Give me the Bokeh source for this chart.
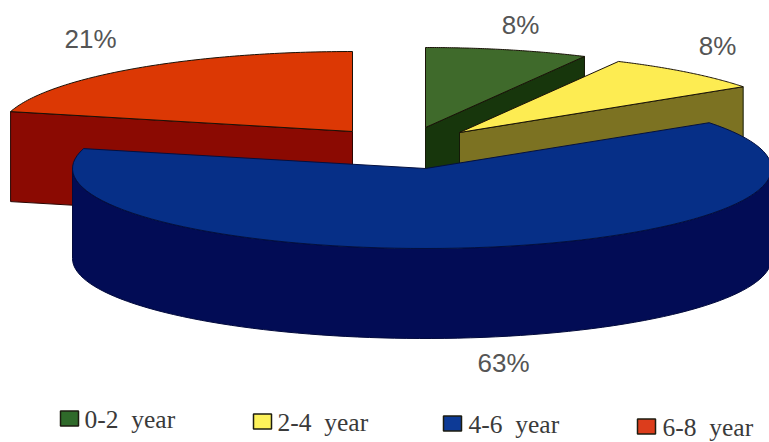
import numpy as np
from bokeh.plotting import figure
from bokeh.models import ColumnDataSource
from bokeh.core.properties import value
from bokeh.embed import file_html
from bokeh.resources import INLINE

# Survey shares, clockwise from twelve o'clock
categories = ["0-2\u00a0 year", "2-4\u00a0 year", "4-6\u00a0 year", "6-8\u00a0 year"]
shares = [8, 8, 63, 21]
share_labels = ["8%", "8%", "63%", "21%"]

top_colors = ["#3f6a2b", "#fdec52", "#062f87", "#dc3804"]
side_colors = ["#17360c", "#7c7222", "#020c55", "#8b0a02"]
swatch_colors = ["#2f6a2a", "#fdf25a", "#0d3a96", "#dc3d1c"]

# Where each exploded slice's tip lands on the page
tips = [(425, 127), (459, 132), (425, 168), (352, 131)]
label_xy = [(520, 24), (717, 45), (503, 362), (90, 38)]
swatch_xy = [(69, 418), (262, 421), (452, 423), (646, 426)]
legend_text_x = [84, 277, 468, 662]
legend_text_y = [419, 422, 424, 427]

RX_LEFT, RX_RIGHT, RY, DEPTH = 353.0, 346.0, 80.0, 90.0


def rim(tip, deg):
    # The right half of the disc is foreshortened by the 3-D viewpoint
    rad = np.radians(np.asarray(deg, dtype=float))
    a = rad - np.radians(3.0) * np.maximum(np.sin(rad), 0)
    rx = np.where(np.sin(a) >= 0, RX_RIGHT, RX_LEFT)
    return tip[0] + rx * np.sin(a), tip[1] - RY * np.cos(a)


edges = np.concatenate([[0], np.cumsum(shares)]) * 3.6

p = figure(width=769, height=442, x_range=(0, 769), y_range=(442, 0),
           output_backend="svg", toolbar_location=None, min_border=0,
           background_fill_color="#ffffff", border_fill_color="#ffffff")
p.axis.visible = False
p.grid.visible = False
p.outline_line_color = None

for i in [0, 3, 1, 2]:
    tip = tips[i]
    start, end = edges[i], edges[i + 1]
    sweep = np.linspace(start, end, 90)
    ax, ay = rim(tip, sweep)

    # Cut wall along the trailing radius, seen on the green and yellow slices
    if i in (0, 1):
        ex, ey = rim(tip, [end])
        p.patch([tip[0], ex[0], ex[0], tip[0]],
                [tip[1], ey[0], ey[0] + DEPTH, tip[1] + DEPTH],
                fill_color=side_colors[i], line_color="#141a08", line_width=1)
    # Cut wall along the leading radius, facing the viewer on the red slice
    if i == 3:
        sx, sy = rim(tip, [start])
        p.patch([tip[0], sx[0], sx[0], tip[0]],
                [tip[1], sy[0], sy[0] + DEPTH, tip[1] + DEPTH],
                fill_color=side_colors[i], line_color="#2a0502", line_width=1)
    # Outer wall of the large slice: only the half of the rim facing the viewer
    if i == 2:
        front = np.linspace(max(start, 90), min(end, 270), 90)
        fx, fy = rim(tip, front)
        p.patch(np.concatenate([fx, fx[::-1]]),
                np.concatenate([fy, fy[::-1] + DEPTH]),
                fill_color=side_colors[i], line_color="#020a3c", line_width=1)

    p.patch(np.concatenate([[tip[0]], ax]), np.concatenate([[tip[1]], ay]),
            fill_color=top_colors[i],
            line_color="#04103f" if i == 2 else "#1a1208", line_width=1)

labels = ColumnDataSource(dict(x=[q[0] for q in label_xy], y=[q[1] for q in label_xy],
                               t=share_labels))
p.text("x", "y", text="t", source=labels, text_font=value("Liberation Sans"),
       text_font_size="26px", text_color="#555555",
       text_align="center", text_baseline="middle")

swatches = ColumnDataSource(dict(x=[q[0] for q in swatch_xy], y=[q[1] for q in swatch_xy],
                                 c=swatch_colors))
p.rect("x", "y", width=18, height=15, source=swatches, fill_color="c",
       line_color="#1c1c10", line_width=1.5)

legend = ColumnDataSource(dict(x=legend_text_x, y=legend_text_y, t=categories))
p.text("x", "y", text="t", source=legend, text_font=value("Liberation Serif"),
       text_font_size="25.5px", text_color="#3a3a3a",
       text_align="left", text_baseline="middle")

open("out.html", "w").write(file_html(p, INLINE))
